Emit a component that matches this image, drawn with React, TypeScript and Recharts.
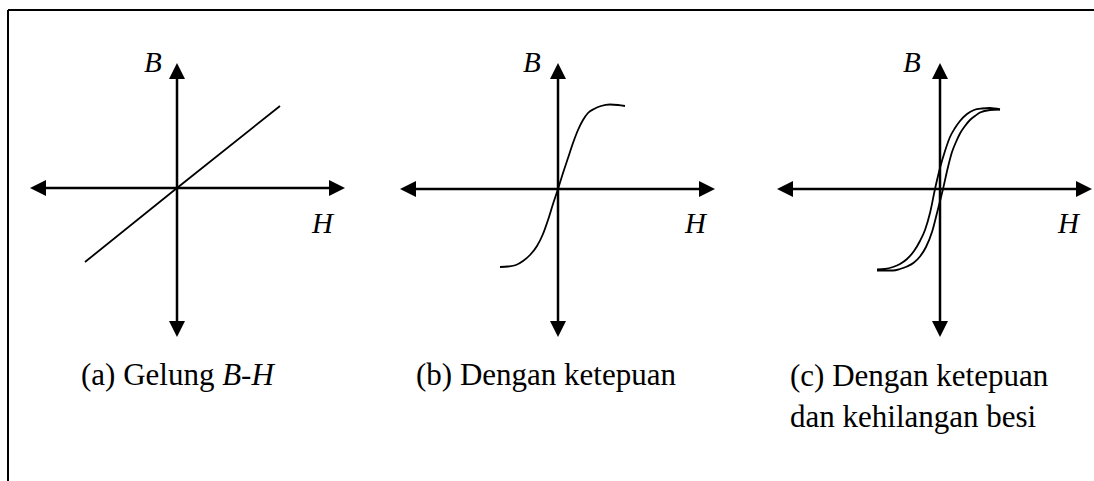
import React from "react";
import { LineChart, Line, XAxis, YAxis, ReferenceLine } from "recharts";

// (a) linear B-H relation
const linearH = [-92, 0, 103];
const linearB = [-74, 0, 82];

// (b) magnetisation curve with saturation
const satH = [-58, -50, -42, -35, -28, -21, -15, -10, -5, 0, 5, 10, 15, 20, 25, 30, 36, 43, 52, 60, 67];
const satB = [-78, -77.5, -76, -72, -66, -57, -45, -31, -15, 0, 16, 31, 46, 59, 69, 76, 80, 83, 84.5, 84, 83];

// (c) hysteresis loop: left (descending) and right (ascending) branches
const loopLeftH = [-63, -55, -47, -40, -33, -26, -20, -15, -10, -5, 0, 5, 10, 15, 20, 27, 34, 42, 50, 60];
const loopLeftB = [-80.5, -80, -78, -75, -70, -62, -52, -41, -24, 0, 21, 38, 52, 61, 68, 75, 79, 80.5, 81, 79.5];
const loopRightH = [-63, -55, -47, -40, -33, -26, -20, -14, -8, -3, 3, 8, 12, 16, 20, 25, 30, 35, 40, 50, 60];
const loopRightB = [-81.5, -81.5, -81.5, -80, -77.5, -73.5, -67.5, -58, -43, -24, 0, 22, 37, 47, 55.5, 63, 69, 73, 76.5, 79, 79.5];

// axis extents for each panel (H left/right, B bottom/top)
const axisHMin = [-147, -158, -163];
const axisHMax = [168, 157, 152];
const axisBMin = [-149, -148, -148];
const axisBMax = [125, 126, 126];

// panel origins on the page
const originX = [177, 558, 940];
const originY = [188, 189, 189];

// labels
const axisLabelB = "B";
const axisLabelH = "H";
const captionA = "(a) Gelung ";
const captionAItalic = "B-H";
const captionB = "(b) Dengan ketepuan";
const captionC1 = "(c) Dengan ketepuan";
const captionC2 = "dan kehilangan besi";

const zip = (hs: number[], bs: number[]) => hs.map((h, i) => ({ h, b: bs[i] }));

const panelSeries = [
  [zip(linearH, linearB)],
  [zip(satH, satB)],
  [zip(loopLeftH, loopLeftB), zip(loopRightH, loopRightB)],
];
const panelCurveType = ["linear", "monotone", "monotone"] as const;

const HALF_W = 170;
const HALF_TOP = 160;
const HALF_BOTTOM = 160;

// double-headed arrow used for the H and B axes
const arrowShape = (props: any) => {
  const { x1, y1, x2, y2 } = props;
  const dx = x2 - x1;
  const dy = y2 - y1;
  const len = Math.hypot(dx, dy) || 1;
  const ux = dx / len;
  const uy = dy / len;
  const L = 16;
  const W = 8;
  const head = (tx: number, ty: number, dirx: number, diry: number) =>
    `${tx},${ty} ${tx - dirx * L - diry * W},${ty - diry * L + dirx * W} ${tx - dirx * L + diry * W},${ty - diry * L - dirx * W}`;
  return (
    <g>
      <line
        x1={x1 + ux * 8}
        y1={y1 + uy * 8}
        x2={x2 - ux * 8}
        y2={y2 - uy * 8}
        stroke="#000"
        strokeWidth={2.5}
      />
      <polygon points={head(x2, y2, ux, uy)} fill="#000" />
      <polygon points={head(x1, y1, -ux, -uy)} fill="#000" />
    </g>
  );
};

function Panel({ idx }: { idx: number }) {
  return (
    <div
      style={{
        position: "absolute",
        left: originX[idx] - HALF_W,
        top: originY[idx] - HALF_TOP,
        width: HALF_W * 2,
        height: HALF_TOP + HALF_BOTTOM,
      }}
    >
      <LineChart
        width={HALF_W * 2}
        height={HALF_TOP + HALF_BOTTOM}
        margin={{ top: 0, right: 0, bottom: 0, left: 0 }}
      >
        <XAxis type="number" dataKey="h" domain={[-HALF_W, HALF_W]} hide allowDataOverflow />
        <YAxis type="number" dataKey="b" domain={[-HALF_BOTTOM, HALF_TOP]} hide allowDataOverflow />
        <ReferenceLine
          segment={[
            { x: axisHMin[idx], y: 0 },
            { x: axisHMax[idx], y: 0 },
          ]}
          shape={arrowShape}
          ifOverflow="visible"
        />
        <ReferenceLine
          segment={[
            { x: 0, y: axisBMin[idx] },
            { x: 0, y: axisBMax[idx] },
          ]}
          shape={arrowShape}
          ifOverflow="visible"
        />
        {panelSeries[idx].map((data, i) => (
          <Line
            key={i}
            data={data}
            dataKey="b"
            type={panelCurveType[idx]}
            dot={false}
            activeDot={false}
            stroke="#000"
            strokeWidth={1.8}
            isAnimationActive={false}
          />
        ))}
      </LineChart>
    </div>
  );
}

const serif = "'Liberation Serif', 'Times New Roman', serif";

export default function App() {
  const bX = [144, 523, 903];
  const hX = [312, 685, 1058];
  return (
    <div
      style={{
        position: "absolute",
        left: 0,
        top: 0,
        width: 1094,
        height: 481,
        overflow: "hidden",
        background: "#fff",
      }}
    >
      {[0, 1, 2].map((i) => (
        <Panel key={i} idx={i} />
      ))}
      <svg
        width={1094}
        height={481}
        style={{ position: "absolute", left: 0, top: 0, pointerEvents: "none" }}
        fontFamily={serif}
      >
        <line x1={8} y1={10} x2={1094} y2={10} stroke="#000" strokeWidth={2} />
        <line x1={8} y1={10} x2={8} y2={481} stroke="#000" strokeWidth={2} />
        {bX.map((x, i) => (
          <text key={"b" + i} x={x} y={72} fontSize={29} fontStyle="italic" fill="#000">
            {axisLabelB}
          </text>
        ))}
        {hX.map((x, i) => (
          <text key={"h" + i} x={x} y={233} fontSize={29} fontStyle="italic" fill="#000">
            {axisLabelH}
          </text>
        ))}
        <text x={81} y={385} fontSize={31} fill="#000">
          {captionA}
          <tspan fontStyle="italic">{captionAItalic}</tspan>
        </text>
        <text x={416} y={385} fontSize={31} fill="#000">
          {captionB}
        </text>
        <text x={790} y={386} fontSize={31} fill="#000">
          {captionC1}
        </text>
        <text x={790} y={427} fontSize={31} fill="#000">
          {captionC2}
        </text>
      </svg>
    </div>
  );
}
